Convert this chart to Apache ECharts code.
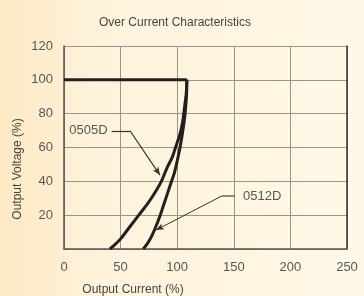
<!DOCTYPE html>
<html>
<head>
<meta charset="utf-8">
<script src="https://cdn.jsdelivr.net/npm/echarts@6/dist/echarts.min.js"></script>
<style>
html,body{margin:0;padding:0;}
#chart{width:364px;height:296px;}
</style>
</head>
<body>
<div id="chart"></div>
<script>
// rated output plateau then the two fold-back curves, [current %, voltage %]
var plateau = [[0, 100], [108.5, 100]]
var curve0505D = [[108.5,100],[108,92],[106.5,84],[105,76],[102.5,68],[98.5,60],[95.5,54],[91,48],[86,40],[80,33],[74,27],[66,20],[58,13],[50,6],[44,2],[40.5,0]]
var curve0512D = [[108.5,100],[108.3,92],[107.5,84],[106.3,76],[104.5,68],[102.5,60],[100,52],[97.5,45],[95,40],[91,32],[88,26],[85,20],[81,13],[77,7],[73.5,3],[70,0]]
var xTicks = [0, 50, 100, 150, 200, 250]
var yTicks = [20, 40, 60, 80, 100, 120]

var font = "'Liberation Sans', Arial, sans-serif"
var lineColor = '#231f20'

var chart = echarts.init(document.getElementById('chart'))
chart.setOption({
  animation: false,
  backgroundColor: {
    type: 'linear', x: 0, y: 0, x2: 1, y2: 0,
    colorStops: [
      { offset: 0, color: '#fde9c3' },
      { offset: 0.25, color: '#fef2da' },
      { offset: 1, color: '#fff8e7' }
    ]
  },
  title: [
    { text: 'Over Current Characteristics', left: 170, top: 12, textAlign: 'center',
      textStyle: { fontFamily: font, fontSize: 12, fontWeight: 'normal', color: '#444' } },
    { text: 'Output Current (%)', left: 128, top: 279, textAlign: 'center',
      textStyle: { fontFamily: font, fontSize: 12, fontWeight: 'normal', color: '#444' } }
  ],
  graphic: [
    { type: 'text', x: 18, y: 169, rotation: Math.PI / 2,
      style: { text: 'Output Voltage (%)', font: '12px ' + font, fill: '#444',
        textAlign: 'center', textVerticalAlign: 'middle' } }
  ],
  grid: { left: 64, right: 17, top: 46, bottom: 47 },
  xAxis: {
    type: 'value', min: 0, max: 250, interval: 50,
    axisLine: { lineStyle: { color: '#555', width: 1.5 } },
    axisTick: { show: false },
    axisLabel: { margin: 12, fontFamily: font, fontSize: 13, color: '#555',
      formatter: function (v) { return xTicks.indexOf(v) >= 0 ? String(v) : '' } },
    splitLine: { lineStyle: { color: '#9a958c', width: 1 } }
  },
  yAxis: [
    {
      type: 'value', min: 0, max: 120, interval: 20,
      axisLine: { show: true, lineStyle: { color: '#555', width: 1.5 } },
      axisTick: { show: false },
      axisLabel: { margin: 11, fontFamily: font, fontSize: 13, color: '#555',
        formatter: function (v) { return yTicks.indexOf(v) >= 0 ? String(v) : '' } },
      splitLine: { lineStyle: { color: '#9a958c', width: 1 } }
    },
    {
      type: 'value', min: 0, max: 120, position: 'right',
      axisLine: { show: true, lineStyle: { color: '#333', width: 1.5 } },
      axisTick: { show: false }, axisLabel: { show: false }, splitLine: { show: false }
    }
  ],
  series: [
    {
      name: 'plateau', type: 'line', data: plateau, symbol: 'none',
      lineStyle: { color: lineColor, width: 3 }
    },
    {
      name: '0505D', type: 'line', data: curve0505D, symbol: 'none', smooth: 0.3,
      lineStyle: { color: lineColor, width: 3 },
      markLine: {
        silent: true, symbol: ['none', 'none'],
        label: { show: true, position: 'start', distance: 4, formatter: '0505D',
          fontFamily: font, fontSize: 13, color: '#555' },
        lineStyle: { type: 'solid', color: '#333', width: 1.2 },
        data: [
          [{ coord: [42.1, 69.9] }, { coord: [58.3, 69.9] }],
          [{ coord: [58.3, 69.9], symbol: 'none', label: { show: false } },
           { coord: [84.8, 43.7], symbol: 'arrow', symbolSize: [5, 8] }]
        ]
      }
    },
    {
      name: '0512D', type: 'line', data: curve0512D, symbol: 'none', smooth: 0.3,
      lineStyle: { color: lineColor, width: 3 },
      markLine: {
        silent: true, symbol: ['none', 'none'],
        label: { show: true, position: 'start', distance: 8, formatter: '0512D',
          fontFamily: font, fontSize: 13, color: '#555' },
        lineStyle: { type: 'solid', color: '#666', width: 1.5 },
        data: [
          [{ coord: [151.1, 31.3] }, { coord: [139.3, 31.3] }],
          [{ coord: [139.3, 31.3], symbol: 'none', label: { show: false }, lineStyle: { color: '#333', width: 1 } },
           { coord: [81.3, 11.2], symbol: 'arrow', symbolSize: [5, 8] }]
        ]
      }
    }
  ]
})
</script>
</body>
</html>
